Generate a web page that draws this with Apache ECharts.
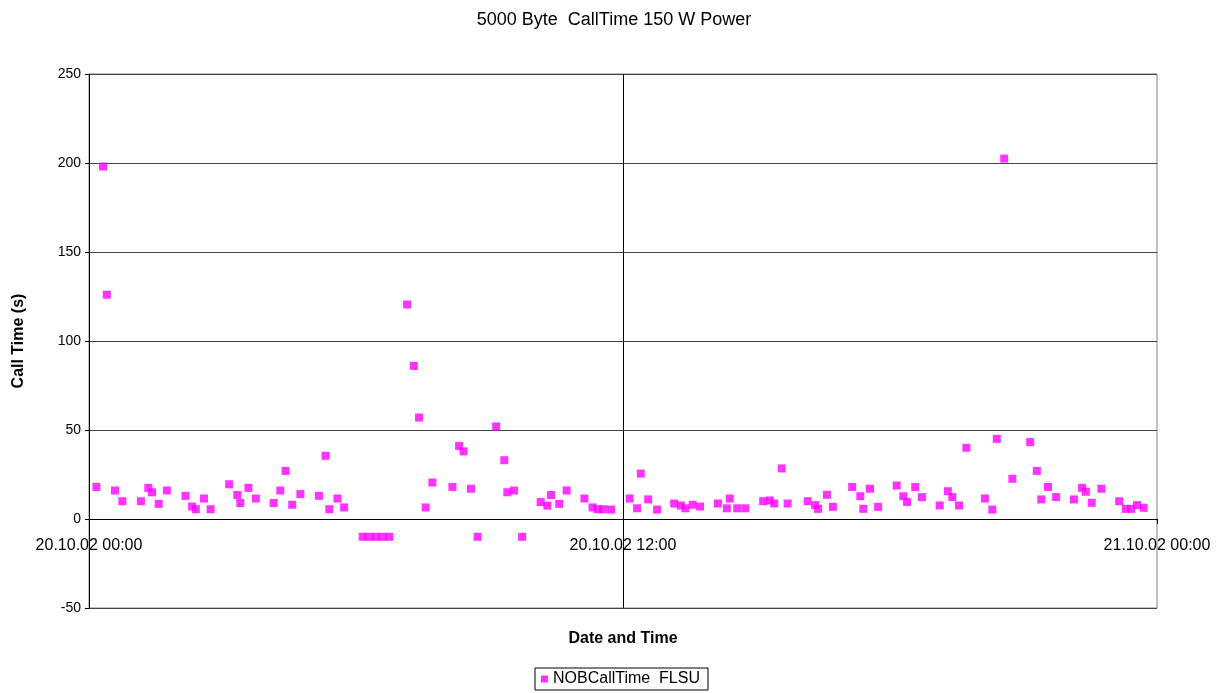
<!DOCTYPE html>
<html>
<head>
<meta charset="utf-8">
<script src="https://cdn.jsdelivr.net/npm/echarts@6/dist/echarts.min.js"></script>
<style>
html,body{margin:0;padding:0;background:#fff;}
#chart{width:1228px;height:693px;}
</style>
</head>
<body>
<div id="chart"></div>
<script>
// Times on 20.10.02 (HH:MM), measured call times in seconds
const times = [
"00:10","00:19","00:24","00:35","00:45","01:10","01:20","01:25","01:34","01:45",
"02:10","02:19","02:24","02:35","02:44","03:09","03:20","03:24","03:35","03:45",
"04:09","04:18","04:25","04:34","04:45","05:10","05:19","05:24","05:35","05:44",
"06:09","06:18","06:27","06:36","06:45","07:09","07:18","07:25","07:34","07:43",
"08:10","08:19","08:25","08:35","08:44","09:09","09:20","09:24","09:33","09:44",
"10:09","10:18","10:23","10:34","10:44","11:08","11:19","11:26","11:33","11:44",
"12:09","12:19","12:24","12:34","12:46","13:09","13:18","13:24","13:34","13:44",
"14:08","14:20","14:24","14:34","14:45","15:09","15:18","15:24","15:34","15:42",
"16:09","16:19","16:23","16:35","16:43","17:09","17:20","17:24","17:33","17:44",
"18:09","18:18","18:23","18:34","18:43","19:07","19:18","19:24","19:33","19:43",
"20:08","20:18","20:24","20:34","20:45","21:09","21:18","21:24","21:33","21:44",
"22:08","22:19","22:24","22:32","22:45","23:09","23:18","23:25","23:33","23:42"
];
const callTimes = [
18,198,126,16,10,10,17.5,15,8.5,16,
13,7,5.5,11.5,5.5,19.5,13.5,9,17.5,11.5,
9,16,27,8,14,13,35.5,5.5,11.5,6.5,
-10,-10,-10,-10,-10,120.5,86,57,6.5,20.5,
18,41,38,17,-10,52,33,15,16,-10,
9.5,7.5,13.5,8.5,16,11.5,6.5,5.5,5.5,5.3,
11.5,6,25.5,11,5.3,8.7,7.6,6,8,7,
8.7,6,11.5,6,6,10,10.4,8.7,28.4,8.7,
10,7.8,5.7,13.6,6.8,18,12.8,5.7,17,6.8,
18.8,12.8,9.6,18,12.3,7.6,15.6,12.3,7.6,40,
11.5,5.3,45,202.5,22.6,43.2,27,11,18,12.3,
11,17.5,15.3,9.1,17,10,5.7,5.7,7.8,6.3
];
const xTickLabels = {0:"20.10.02 00:00", 12:"20.10.02 12:00", 24:"21.10.02 00:00"};
const seriesName = "NOBCallTime  FLSU";
const chartTitle = "5000 Byte  CallTime 150 W Power";

const toHours = t => { const [h,m] = t.split(":").map(Number); return h + m/60; };
const points = times.map((t,i) => [toHours(t), callTimes[i]]);

const font = "'Liberation Sans', Arial, sans-serif";
const chart = echarts.init(document.getElementById('chart'), null, {renderer:'canvas'});
chart.setOption({
  animation:false,
  backgroundColor:'#fff',
  title:{
    text:chartTitle, left:'center', top:6,
    textStyle:{fontFamily:font, fontSize:18, fontWeight:'normal', color:'#000'}
  },
  grid:{left:89, right:71, top:74, bottom:85, show:true, borderColor:'#808080', borderWidth:1,
        outerBoundsMode:'none', containLabel:false},
  xAxis:{
    type:'value', min:0, max:24, interval:12,
    name:'Date and Time', nameLocation:'middle', nameGap:23,
    nameTextStyle:{fontFamily:font, fontSize:16, fontWeight:'bold', color:'#000'},
    axisLine:{onZero:true, lineStyle:{color:'#000', width:1}},
    axisTick:{show:true, length:5, lineStyle:{color:'#000'}},
    axisLabel:{fontFamily:font, fontSize:16, color:'#000', margin:-70,
      formatter: v => xTickLabels[v] || ''},
    splitLine:{show:false}
  },
  yAxis:{
    type:'value', min:-50, max:250, interval:50,
    name:'Call Time (s)', nameLocation:'middle', nameGap:62, nameRotate:90,
    nameTextStyle:{fontFamily:font, fontSize:16, fontWeight:'bold', color:'#000'},
    axisLine:{show:true, onZero:false, lineStyle:{color:'#000', width:1}},
    axisTick:{show:true, length:4, lineStyle:{color:'#000'}},
    axisLabel:{fontFamily:font, fontSize:14, color:'#000', margin:8},
    splitLine:{show:true, lineStyle:{color:'#444', width:1}}
  },
  legend:{
    top:668, left:535,
    data:[{name:seriesName, icon:'rect'}],
    itemWidth:7, itemHeight:7, itemGap:5,
    borderColor:'#000', borderWidth:1, padding:[3,8,3,6],
    textStyle:{fontFamily:font, fontSize:16, color:'#000'}
  },
  series:[{
    name:seriesName, type:'scatter', symbol:'rect', symbolSize:8,
    itemStyle:{color:'#FF00FF'},
    data:points,
    markLine:{
      silent:true, symbol:['none','none'], label:{show:false},
      lineStyle:{color:'#000', width:1, type:'solid'},
      data:[{xAxis:12}]
    }
  }]
});
</script>
</body>
</html>
